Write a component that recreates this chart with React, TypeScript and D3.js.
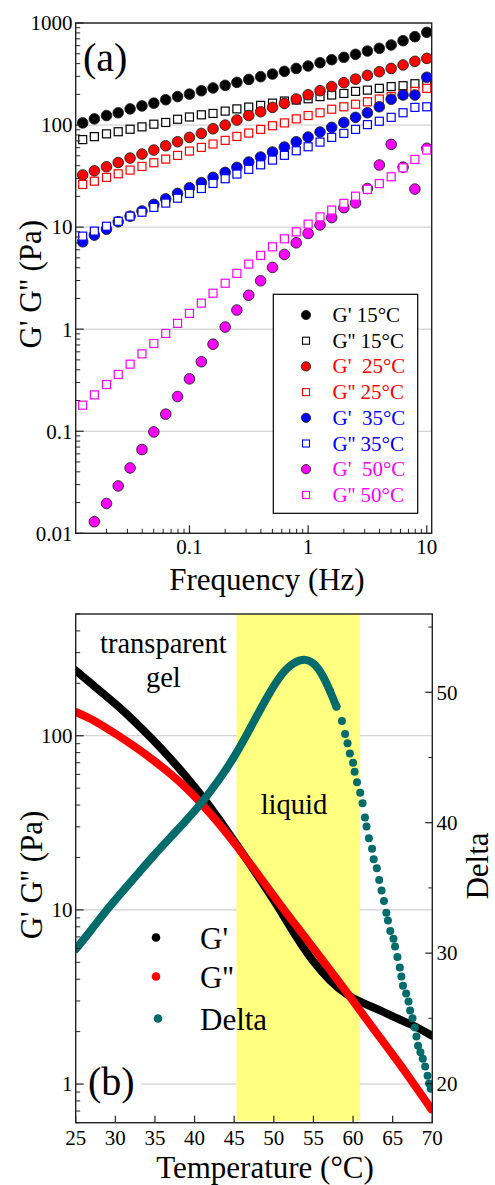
import React from 'react';
import * as d3 from 'd3';

// ---- panel (a): frequency sweeps ----
const freq = [0.0126, 0.0158, 0.02, 0.0251, 0.0316, 0.0398, 0.0501, 0.0631, 0.0794, 0.1,
  0.126, 0.158, 0.2, 0.251, 0.316, 0.398, 0.501, 0.631, 0.794, 1,
  1.26, 1.58, 2, 2.51, 3.16, 3.98, 5.01, 6.31, 7.94, 10];

const gp15 = [105, 115, 124, 132, 144, 154, 164, 177, 190, 201, 217, 231, 245, 262, 280, 298, 316, 336, 359, 379, 408, 437, 461, 493, 531, 565, 609, 671, 735, 810];
const gpp15 = [72, 77, 82, 86, 91, 96, 102, 106, 114, 120, 126, 130, 137, 144, 150, 156, 164, 172, 176, 181, 190, 197, 204, 214, 220, 229, 238, 243, 254, 264];
const gp25 = [32.4, 35.6, 39.0, 43.0, 47.5, 52.0, 56.9, 62.7, 68.7, 75.7, 82.8, 92, 100, 112, 124, 135, 149, 163, 180, 198, 217, 238, 260, 282, 307, 333, 359, 388, 421, 450];
const gpp25 = [26.2, 28.2, 30.7, 33.3, 36.2, 39.3, 42.7, 46.4, 50.4, 55.6, 60.4, 65.2, 70.8, 77.4, 83.5, 90.7, 98.5, 105, 115, 124, 132, 143, 151, 160, 169, 180, 190, 200, 214, 229];
const gp35 = [7.18, 8.35, 9.55, 11.3, 12.8, 14.4, 16.7, 18.9, 21.4, 24.3, 27.3, 30.7, 34.4, 38.5, 43.4, 48.6, 54.4, 60.9, 68.6, 76.3, 85.4, 94.9, 106, 119, 132, 151, 179, 197, 197, 294];
const gpp35 = [8.16, 9.14, 10.2, 11.4, 12.8, 14.0, 15.6, 17.2, 19.2, 21.4, 23.9, 26.8, 29.8, 33.1, 36.8, 40.8, 45.4, 50.5, 56.0, 61.3, 68.1, 75.7, 82.9, 90.7, 101, 109, 119, 132, 149, 151];
const gp50 = [null, 0.013, 0.0196, 0.0291, 0.0437, 0.0662, 0.0985, 0.147, 0.219, 0.326, 0.48, 0.713, 1.05, 1.54, 2.15, 2.98, 4.03, 5.4, 7.02, 8.67, 10.5, 12.4, 15.5, 17.3, 23.9, 40.6, 64.7, 38.7, 23.6, 59.2];
const gpp50 = [0.18, 0.227, 0.287, 0.36, 0.454, 0.573, 0.724, 0.908, 1.14, 1.43, 1.8, 2.25, 2.82, 3.52, 4.34, 5.28, 6.41, 7.68, 8.99, 10.7, 12.6, 14.7, 17.1, 20.1, 23.4, 26.7, 31.1, 38.1, 46.1, 56.9];

const legendA = ["G' 15°C", "G'' 15°C", "G'  25°C", "G'' 25°C", "G'  35°C", "G'' 35°C", "G'  50°C", "G'' 50°C"];
const freqTicks = [0.1, 1, 10];
const modTicks = [0.01, 0.1, 1, 10, 100, 1000];

// ---- panel (b): temperature ramp ----
const tempG1 = [25, 26.8, 28.5, 30.6, 32.7, 34.8, 36.9, 39, 41.1, 43.2, 45.3, 47, 48.7, 50.8, 52.9, 55, 57.1, 59.2, 61.3, 63.4, 65.5, 67.6, 69.9];
const gPrime = [237, 202, 174, 145, 117.5, 94.4, 74.5, 58, 44.2, 32.7, 23.7, 18.3, 14.0, 10.0, 6.9, 5.0, 3.89, 3.24, 2.9, 2.66, 2.38, 2.18, 1.9];
const tempG2 = [25, 26.8, 28.5, 30.6, 32.7, 34.8, 36.9, 39, 41.1, 43.2, 45.3, 48.7, 50.8, 52.9, 55, 57.1, 59.8, 61.3, 63.4, 65.5, 67.6, 69.9];
const gDouble = [137, 126, 113.5, 98.9, 85.1, 72.4, 61, 50.1, 39.8, 30.9, 23.4, 14.5, 10.7, 8.04, 6.03, 4.52, 3.09, 2.49, 1.85, 1.38, 1.01, 0.716];
const tempDelta = [25, 27, 29, 31, 33, 35, 37, 39, 41, 43, 45, 47, 49, 51, 52.5, 54, 55.2, 56.2, 57.1, 57.9,
  58.6, 59.0, 59.3, 59.6, 60.0, 60.2, 60.5, 60.9, 61.2, 61.5, 61.7, 62.0, 62.4, 62.6, 63.0, 63.3, 63.6, 63.9, 64.2, 64.4,
  64.7, 65.1, 65.3, 65.6, 65.9, 66.1, 66.3, 66.7, 67.0, 67.2, 67.5, 67.8, 68.0, 68.2, 68.5, 68.8, 69.1, 69.4, 69.6, 69.8];
const delta = [30.3, 31.8, 33.4, 34.8, 36.2, 37.6, 38.9, 40.2, 41.6, 43.2, 45.0, 47.2, 49.5, 51.5, 52.3, 52.6, 52.2, 51.3, 50.1, 48.9,
  47.8, 46.8, 46.1, 45.3, 44.6, 43.9, 43.1, 42.3, 41.5, 40.4, 39.7, 38.8, 38.0, 37.2, 36.5, 35.6, 34.8, 34.0, 33.1, 32.5,
  31.7, 31.1, 30.5, 29.7, 28.9, 28.2, 27.5, 26.9, 26.3, 25.6, 25.0, 24.3, 23.6, 22.9, 22.4, 21.9, 21.3, 20.6, 20.0, 19.6];
const liquidRange = [45.3, 60.9];
const tempTicks = [25, 30, 35, 40, 45, 50, 55, 60, 65, 70];
const modTicksB = [1, 10, 100];
const deltaTicks = [20, 30, 40, 50];
const deltaMinor = [25, 35, 45, 55];
const legendB = ["G'", "G''", 'Delta'];

const FONT = '"Liberation Serif", "Times New Roman", Times, "DejaVu Serif", serif';
const AXIS = '#222';
const GRID = '#c8c8c8';
const TEAL = '#006b6b';

// log minor ticks inside a domain
const logMinor = (domain: number[]) => {
  const out: number[] = [];
  for (let k = -3; k <= 3; k++) {
    for (let m = 2; m <= 9; m++) {
      const v = m * Math.pow(10, k);
      if (v >= domain[0] && v <= domain[1]) out.push(v);
    }
  }
  return out;
};

const T = (props: any) => <text {...props} style={{ fontFamily: FONT, whiteSpace: 'pre', ...(props.style || {}) }} />;

export default function App() {
  // panel (a)
  const xA = d3.scaleLog().domain([0.011, 11]).range([75.7, 431.7]);
  const yA = d3.scaleLog().domain([0.01, 1000]).range([533.3, 23]);
  const [aL, aR] = xA.range();
  const [aB, aT] = yA.range();

  const seriesA = [
    { vals: gp15, color: '#000', shape: 'circle' },
    { vals: gpp15, color: '#000', shape: 'square' },
    { vals: gp25, color: '#ff0000', shape: 'circle' },
    { vals: gpp25, color: '#ff0000', shape: 'square' },
    { vals: gp35, color: '#0000ff', shape: 'circle' },
    { vals: gpp35, color: '#0000ff', shape: 'square' },
    { vals: gp50, color: '#ff00ff', shape: 'circle' },
    { vals: gpp50, color: '#ff00ff', shape: 'square' },
  ];

  // panel (b)
  const xB = d3.scaleLinear().domain([25, 70]).range([75.7, 432.3]);
  const yB = d3.scaleLog().domain([0.6, 500]).range([1122.7, 614]);
  const yD = d3.scaleLinear().domain([17, 56]).range([1122.7, 614]);
  const [bL, bR] = xB.range();
  const [bB, bT] = yB.range();

  const lineG = d3.line<number>().curve(d3.curveBasis);
  const g1Path = lineG(tempG1.map((t, i) => [xB(t), yB(gPrime[i])]) as any);
  const g2Path = lineG(tempG2.map((t, i) => [xB(t), yB(gDouble[i])]) as any);
  const dLinePts = tempDelta.map((t, i) => [t, delta[i]]).filter(d => d[0] <= 57.9);
  const dDotPts = tempDelta.map((t, i) => [t, delta[i]]).filter(d => d[0] >= 57.1);
  const dPath = lineG(dLinePts.map(d => [xB(d[0]), yD(d[1])]) as any);

  const tickFs = 21;

  return (
    <div style={{ position: 'absolute', left: 0, top: 0 }}>
      <svg width={495} height={1185} style={{ display: 'block', background: '#fff', fontFamily: FONT }}>
        <defs>
          <clipPath id="clipA"><rect x={aL} y={aT} width={aR - aL} height={aB - aT} /></clipPath>
          <clipPath id="clipB"><rect x={bL} y={bT} width={bR - bL} height={bB - bT} /></clipPath>
        </defs>

        {/* ================= panel (a) ================= */}
        {modTicks.map(v => (
          <line key={'ga' + v} x1={aL} x2={aR} y1={yA(v)} y2={yA(v)} stroke={GRID} strokeWidth={1} />
        ))}
        <T x={83} y={71} fontSize={40}>(a)</T>

        <g clipPath="url(#clipA)">
          {seriesA.map((s, si) => (
            <g key={'s' + si}>
              {freq.map((f, i) => {
                const v = s.vals[i];
                if (v == null) return null;
                const cx = xA(f), cy = yA(v);
                return s.shape === 'circle'
                  ? <circle key={i} cx={cx} cy={cy} r={5.3} fill={s.color} stroke="#222" strokeWidth={0.9} />
                  : <rect key={i} x={cx - 4} y={cy - 4} width={8} height={8} fill="#fff" stroke={s.color} strokeWidth={1.2} />;
              })}
            </g>
          ))}
        </g>

        {/* legend (a) */}
        <rect x={273.3} y={294.3} width={144.4} height={219} fill="#fff" stroke="#000" strokeWidth={1.2} />
        {legendA.map((lab, i) => {
          const s = seriesA[i];
          const cy = 315 + i * 25.7;
          return (
            <g key={'la' + i}>
              {s.shape === 'circle'
                ? <circle cx={306} cy={cy} r={4.6} fill={s.color} stroke="#222" strokeWidth={0.9} />
                : <rect x={302.5} y={cy - 3.5} width={7} height={7} fill="#fff" stroke={s.color} strokeWidth={1.1} />}
              <T x={332.5} y={cy + 7} fontSize={21} fill={s.color}>{lab}</T>
            </g>
          );
        })}

        {/* axes (a) */}
        <rect x={aL} y={aT} width={aR - aL} height={aB - aT} fill="none" stroke={AXIS} strokeWidth={1.4} />
        {modTicks.map(v => (
          <g key={'ya' + v}>
            <line x1={aL} x2={aL + 8} y1={yA(v)} y2={yA(v)} stroke={AXIS} strokeWidth={1.2} />
            <T x={72.5} y={yA(v)} dy="0.35em" textAnchor="end" fontSize={tickFs}>{String(v)}</T>
          </g>
        ))}
        {logMinor(yA.domain()).map(v => (
          <line key={'yam' + v} x1={aL} x2={aL + 4.5} y1={yA(v)} y2={yA(v)} stroke={AXIS} strokeWidth={1} />
        ))}
        {freqTicks.map(v => (
          <g key={'xa' + v}>
            <line x1={xA(v)} x2={xA(v)} y1={aB} y2={aB - 8} stroke={AXIS} strokeWidth={1.2} />
            <T x={xA(v)} y={554} textAnchor="middle" fontSize={tickFs}>{String(v)}</T>
          </g>
        ))}
        {logMinor(xA.domain()).map(v => (
          <line key={'xam' + v} x1={xA(v)} x2={xA(v)} y1={aB} y2={aB - 4.5} stroke={AXIS} strokeWidth={1} />
        ))}
        <T x={267} y={590} textAnchor="middle" fontSize={31}>Frequency (Hz)</T>
        <T transform={`translate(41,${(aT + aB) / 2 + 6}) rotate(-90)`} textAnchor="middle" fontSize={31}>{"G' G'' (Pa)"}</T>

        {/* ================= panel (b) ================= */}
        {modTicksB.map(v => (
          <line key={'gb' + v} x1={bL} x2={bR} y1={yB(v)} y2={yB(v)} stroke={GRID} strokeWidth={1} />
        ))}
        <rect x={xB(liquidRange[0])} y={bT} width={xB(liquidRange[1]) - xB(liquidRange[0])} height={bB - bT - 2}
          fill="#ffff80" />

        <T x={163.3} y={652.7} textAnchor="middle" fontSize={28.5}>transparent</T>
        <T x={163.3} y={686.7} textAnchor="middle" fontSize={28.5}>gel</T>
        <T x={294} y={814} textAnchor="middle" fontSize={28.6}>liquid</T>

        <g clipPath="url(#clipB)">
          <path d={g1Path || ''} fill="none" stroke="#000" strokeWidth={8} strokeLinecap="round" strokeLinejoin="round" />
          <path d={g2Path || ''} fill="none" stroke="#ff0000" strokeWidth={8} strokeLinecap="round" strokeLinejoin="round" />
          <path d={dPath || ''} fill="none" stroke={TEAL} strokeWidth={8} strokeLinecap="round" strokeLinejoin="round" />
          {dDotPts.map((d, i) => (
            <circle key={'dd' + i} cx={xB(d[0])} cy={yD(d[1])} r={4} fill={TEAL} />
          ))}
        </g>

        {/* legend (b) */}
        {legendB.map((lab, i) => {
          const cy = [937.5, 976.5, 1018.5][i];
          const col = ['#000', '#ff0000', TEAL][i];
          return (
            <g key={'lb' + i}>
              <circle cx={i === 2 ? 158 : 156} cy={cy} r={4.3} fill={col} />
              <T x={200} y={cy + 11} fontSize={31}>{lab}</T>
            </g>
          );
        })}

        <rect x={78} y={1060} width={63} height={46} fill="#fff" />
        <T x={88} y={1094.5} fontSize={40}>(b)</T>

        {/* axes (b) */}
        <rect x={bL} y={bT} width={bR - bL} height={bB - bT} fill="none" stroke={AXIS} strokeWidth={1.4} />
        {modTicksB.map(v => (
          <g key={'yb' + v}>
            <line x1={bL} x2={bL + 8} y1={yB(v)} y2={yB(v)} stroke={AXIS} strokeWidth={1.2} />
            <T x={72.5} y={yB(v)} dy="0.35em" textAnchor="end" fontSize={tickFs}>{String(v)}</T>
          </g>
        ))}
        {logMinor(yB.domain()).map(v => (
          <line key={'ybm' + v} x1={bL} x2={bL + 4.5} y1={yB(v)} y2={yB(v)} stroke={AXIS} strokeWidth={1} />
        ))}
        {tempTicks.map(v => (
          <g key={'xb' + v}>
            <line x1={xB(v)} x2={xB(v)} y1={bB} y2={bB - 7} stroke={AXIS} strokeWidth={1.2} />
            <T x={xB(v)} y={1145} textAnchor="middle" fontSize={tickFs}>{String(v)}</T>
          </g>
        ))}
        {deltaTicks.map(v => (
          <g key={'yd' + v}>
            <line x1={bR} x2={bR - 7} y1={yD(v)} y2={yD(v)} stroke={AXIS} strokeWidth={1.2} />
            <T x={436.5} y={yD(v)} dy="0.35em" fontSize={tickFs}>{String(v)}</T>
          </g>
        ))}
        {deltaMinor.map(v => (
          <line key={'ydm' + v} x1={bR} x2={bR - 4} y1={yD(v)} y2={yD(v)} stroke={AXIS} strokeWidth={1} />
        ))}
        <T x={265} y={1178} textAnchor="middle" fontSize={31}>Temperature (°C)</T>
        <T transform={`translate(42,875) rotate(-90)`} textAnchor="middle" fontSize={31}>{"G' G'' (Pa)"}</T>
        <T transform={`translate(487.5,866) rotate(-90)`} textAnchor="middle" fontSize={31}>Delta</T>
      </svg>
    </div>
  );
}
